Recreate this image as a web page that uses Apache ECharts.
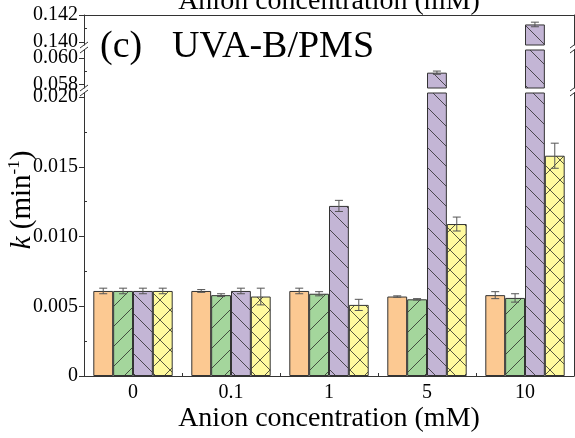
<!DOCTYPE html>
<html>
<head>
<meta charset="utf-8">
<script src="https://cdn.jsdelivr.net/npm/echarts@6/dist/echarts.min.js"></script>
<style>
  html, body { margin: 0; padding: 0; background: #fff; }
  #chart { width: 575px; height: 438px; }
</style>
</head>
<body>
<div id="chart"></div>
<script>
// Anion concentrations on the x axis
const categories = ['0', '0.1', '1', '5', '10'];

// Rate constants k (min^-1) and their error bars, one array per bar group
const plainVals     = [0.0061, 0.0061, 0.0061, 0.0057, 0.0058];
const plainErr      = [0.0002, 0.0001, 0.0002, 0.00005, 0.00025];
const slashVals     = [0.0061, 0.0058, 0.0059, 0.0055, 0.0056];
const slashErr      = [0.0002, 0.0001, 0.00015, 0.00005, 0.0003];
const backslashVals = [0.0061, 0.0061, 0.0122, 0.0589, 0.1413];
const backslashErr  = [0.0002, 0.0002, 0.0004, 0.00012, 0.00017];
const crossVals     = [0.0061, 0.0057, 0.0051, 0.0109, 0.0158];
const crossErr      = [0.0002, 0.0006, 0.0004, 0.0005, 0.0009];

// Tick labels for the three pieces of the broken y axis
const topTicks  = [0.140, 0.142];
const midTicks  = [0.058, 0.060];
const mainTicks = [0, 0.005, 0.010, 0.015, 0.020];
const topMinor  = [0.141];
const midMinor  = [0.059];
const mainMinor = [0.0025, 0.0075, 0.0125, 0.0175];

const FONT = '"Liberation Serif", "Times New Roman", serif';
const INK = '#333';
const CAT_GAP = 0.19;
const TICK_FONT = 20;

// Axis pieces, top to bottom: pixel layout and visible value window
const pieces = [
  { top: 15, height: 30,  min: 0.13978, max: 0.142,  ticks: topTicks,  minor: topMinor },
  { top: 50, height: 38,  min: 0.05775, max: 0.0606, ticks: midTicks,  minor: midMinor },
  { top: 93, height: 283, min: 0,       max: 0.0203, ticks: mainTicks, minor: mainMinor }
];
const GRID_LEFT = 84, GRID_RIGHT = 1, W = 575;

function hatch(fill, kind) {
  const P = 20;
  const cv = document.createElement('canvas');
  cv.width = P; cv.height = P;
  const ctx = cv.getContext('2d');
  ctx.fillStyle = fill;
  ctx.fillRect(0, 0, P, P);
  ctx.strokeStyle = 'rgba(35,35,35,0.85)';
  ctx.lineWidth = 0.9;
  ctx.beginPath();
  if (kind === 'slash' || kind === 'cross') {
    ctx.moveTo(-2, P + 2); ctx.lineTo(P + 2, -2);
    ctx.moveTo(-2, 2); ctx.lineTo(2, -2);
    ctx.moveTo(P - 2, P + 2); ctx.lineTo(P + 2, P - 2);
  }
  if (kind === 'backslash' || kind === 'cross') {
    ctx.moveTo(-2, -2); ctx.lineTo(P + 2, P + 2);
    ctx.moveTo(P - 2, -2); ctx.lineTo(P + 2, 2);
    ctx.moveTo(-2, P - 2); ctx.lineTo(2, P + 2);
  }
  ctx.stroke();
  return { image: cv, repeat: 'repeat' };
}

const groups = [
  { vals: plainVals,     errs: plainErr,     color: '#FCC992' },
  { vals: slashVals,     errs: slashErr,     color: hatch('#A4D69C', 'slash') },
  { vals: backslashVals, errs: backslashErr, color: hatch('#C3B5D5', 'backslash') },
  { vals: crossVals,     errs: crossErr,     color: hatch('#FFFA9E', 'cross') }
];

const grid = [], xAxis = [], yAxis = [], series = [];

pieces.forEach((p, i) => {
  grid.push({ left: GRID_LEFT, right: GRID_RIGHT, top: p.top, height: p.height });

  xAxis.push({
    type: 'category', gridIndex: i, data: categories,
    position: i === 0 ? 'top' : 'bottom',
    axisLine: { show: i !== 1, onZero: false, lineStyle: { color: INK, width: 1 } },
    axisTick: { show: i === 2, inside: true, length: 3, lineStyle: { color: INK } },
    axisLabel: { show: i === 2, fontFamily: FONT, fontSize: TICK_FONT, color: '#000', margin: 7 },
    splitLine: { show: false }
  });

  // labelled axis with outward major ticks
  yAxis.push({
    type: 'value', gridIndex: i, position: 'left', min: p.min, max: p.max,
    axisLine: { show: true, lineStyle: { color: INK, width: 1 } },
    axisTick: { show: true, inside: false, length: 5, customValues: p.ticks, lineStyle: { color: INK } },
    axisLabel: {
      customValues: p.ticks, margin: 6, fontFamily: FONT, fontSize: TICK_FONT, color: '#000',
      formatter: v => (v === 0 ? '0' : v.toFixed(3))
    },
    splitLine: { show: false }
  });
  // right frame line
  yAxis.push({
    type: 'value', gridIndex: i, position: 'right', min: p.min, max: p.max,
    axisLine: { show: true, lineStyle: { color: INK, width: 1 } },
    axisTick: { show: false }, axisLabel: { show: false }, splitLine: { show: false }
  });
  // inward minor ticks
  yAxis.push({
    type: 'value', gridIndex: i, position: 'left', min: p.min, max: p.max,
    axisLine: { show: false },
    axisTick: { show: true, inside: true, length: 3, customValues: p.minor, lineStyle: { color: INK } },
    axisLabel: { show: false }, splitLine: { show: false }
  });

  groups.forEach(g => {
    series.push({
      type: 'bar', xAxisIndex: i, yAxisIndex: 3 * i, data: g.vals,
      barGap: '0%', barCategoryGap: (CAT_GAP * 100) + '%', clip: true,
      itemStyle: { color: g.color, borderColor: INK, borderWidth: 1 },
      emphasis: { disabled: true }, silent: true
    });
  });

  const errData = [];
  groups.forEach((g, gi) => g.vals.forEach((v, c) => errData.push([c, v, g.errs[c], gi])));
  series.push({
    type: 'custom', xAxisIndex: i, yAxisIndex: 3 * i, data: errData, clip: true, z: 5, silent: true,
    encode: { x: 0, y: 1 },
    renderItem: (params, api) => {
      const c = api.value(0), v = api.value(1), e = api.value(2), gi = api.value(3);
      const band = api.size([1, 0])[0];
      const bw = band * (1 - CAT_GAP) / 4;
      const x = api.coord([c, v])[0] + (gi - 1.5) * bw;
      const yHi = api.coord([c, v + e])[1];
      const yLo = api.coord([c, v - e])[1];
      const cap = 4;
      const style = { stroke: '#555', lineWidth: 1 };
      return {
        type: 'group',
        children: [
          { type: 'line', shape: { x1: x, y1: yHi, x2: x, y2: yLo }, style },
          { type: 'line', shape: { x1: x - cap, y1: yHi, x2: x + cap, y2: yHi }, style },
          { type: 'line', shape: { x1: x - cap, y1: yLo, x2: x + cap, y2: yLo }, style }
        ]
      };
    }
  });
});

// Break marks on both frame sides, at the ends of each gap
const breakMarks = [];
for (let i = 0; i < pieces.length - 1; i++) {
  const yA = pieces[i].top + pieces[i].height;
  const yB = pieces[i + 1].top;
  [GRID_LEFT, W - GRID_RIGHT].forEach(x => {
    [yA, yB].forEach(y => {
      breakMarks.push({
        type: 'line', silent: true,
        shape: { x1: x - 4, y1: y + 3, x2: x + 4, y2: y - 3 },
        style: { stroke: INK, lineWidth: 1 }
      });
    });
  });
}

const graphic = breakMarks.concat([
  {
    type: 'text', x: 329, y: 2, silent: true,
    style: { text: 'Anion concentration (mM)', fontFamily: FONT, fontSize: 28, fill: '#000', align: 'center', verticalAlign: 'middle' }
  },
  {
    type: 'text', x: 329, y: 419, silent: true,
    style: { text: 'Anion concentration (mM)', fontFamily: FONT, fontSize: 28, fill: '#000', align: 'center', verticalAlign: 'middle' }
  },
  {
    type: 'text', x: 100, y: 47, silent: true,
    style: { text: '(c)', fontFamily: FONT, fontSize: 38, fill: '#000', align: 'left', verticalAlign: 'middle' }
  },
  {
    type: 'text', x: 172, y: 47, silent: true,
    style: { text: 'UVA-B/PMS', fontFamily: FONT, fontSize: 38, fill: '#000', align: 'left', verticalAlign: 'middle' }
  },
  {
    type: 'text', x: 22, y: 200, rotation: Math.PI / 2, silent: true,
    style: {
      text: '{i|k}{n|\u00a0(min}{s|-1}{n|)}',
      align: 'center', verticalAlign: 'middle',
      rich: {
        i: { fontFamily: FONT, fontSize: 29, fontStyle: 'italic', fill: '#000', verticalAlign: 'middle', lineHeight: 32 },
        n: { fontFamily: FONT, fontSize: 29, fill: '#000', verticalAlign: 'middle', lineHeight: 32 },
        s: { fontFamily: FONT, fontSize: 17, fill: '#000', verticalAlign: 'top', lineHeight: 32 }
      }
    }
  }
]);

const chart = echarts.init(document.getElementById('chart'), null, { renderer: 'canvas' });
chart.setOption({
  backgroundColor: '#fff',
  animation: false,
  grid, xAxis, yAxis, series, graphic
});
</script>
</body>
</html>
